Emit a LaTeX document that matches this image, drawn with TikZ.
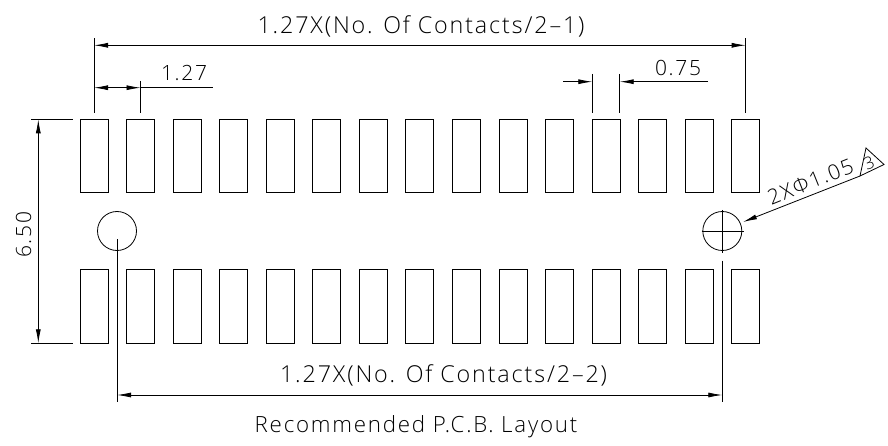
\documentclass[tikz,border=0pt]{standalone}
\usepackage{fontspec}
\setmainfont{Open Sans Light}[LetterSpace=8]
\usetikzlibrary{arrows.meta}
\tikzset{
  pad/.style={draw, line width=0.8pt, minimum width=28pt, minimum height=73.5pt, inner sep=0pt},
  dimline/.style={line width=0.8pt, -{Latex[length=14pt,width=5pt]}},
  dimboth/.style={line width=0.8pt, {Latex[length=14pt,width=5pt]}-{Latex[length=14pt,width=5pt]}},
  extline/.style={line width=0.8pt},
  dimtext/.style={font=\fontsize{23.3}{24}\selectfont, inner sep=0pt},
  smalltext/.style={font=\fontsize{21}{24}\selectfont, inner sep=0pt},
}

\begin{document}
\begin{tikzpicture}[x=1pt,y=-1pt]
  \useasboundingbox (0,0) rectangle (888,446);
  % Pads
  \foreach \i in {1,...,15} {
    \node[pad] (t\i) at ({93.9+46.57*(\i-1)}, 156) {};
    \node[pad] (b\i) at ({93.9+46.57*(\i-1)}, 306.6) {};
  }
  % Holes
  \node[draw, circle, line width=0.8pt, minimum size=39pt, inner sep=0pt] (hl) at (117, 231) {};
  \node[draw, circle, line width=0.8pt, minimum size=39pt, inner sep=0pt] (hr) at (722.3, 231) {};
  \coordinate (hrw) at (701.7, 231);
  \coordinate (hre) at (743.5, 231);
  \coordinate (hrn) at (722.3, 210);
  \coordinate (hrs) at (722.3, 252.7);
  \draw[extline] (hrw) -- (hre);
  \draw[extline] (hrn) -- (hrs);

  % Overall pitch dimension
  \coordinate (a1) at (94, 38.3);
  \coordinate (a2) at (94, 112.7);
  \coordinate (a3) at (745.7, 38.3);
  \coordinate (a4) at (745.7, 112.7);
  \coordinate (a5) at (94, 45.3);
  \coordinate (a6) at (745.7, 45.3);
  \draw[extline] (a1) -- (a2);
  \draw[extline] (a3) -- (a4);
  \draw[dimboth] (a5) -- (a6);
  \node[dimtext] (topdim) at (421, 26) {1.27X(No. Of Contacts/2–1)};

  % Single pitch
  \coordinate (c1) at (140.5, 81);
  \coordinate (c2) at (140.5, 112.7);
  \coordinate (c3) at (94, 87.7);
  \coordinate (c4) at (140.5, 87.7);
  \coordinate (c5) at (212.7, 87.7);
  \draw[extline] (c1) -- (c2);
  \draw[dimboth] (c3) -- (c4);
  \draw[extline] (c4) -- (c5);
  \node[smalltext] (pitch) at (184, 73) {1.27};

  % Pad width
  \coordinate (d1) at (592.3, 74);
  \coordinate (d2) at (592.3, 112.7);
  \coordinate (d3) at (619.7, 74);
  \coordinate (d4) at (619.7, 112.7);
  \coordinate (d5) at (563, 81.7);
  \coordinate (d6) at (592.3, 81.7);
  \coordinate (d7) at (708, 81.7);
  \coordinate (d8) at (619.7, 81.7);
  \draw[extline] (d1) -- (d2);
  \draw[extline] (d3) -- (d4);
  \draw[dimline] (d5) -- (d6);
  \draw[dimline] (d7) -- (d8);
  \node[smalltext] (width) at (678, 67.5) {0.75};

  % Row distance
  \coordinate (e1) at (31, 119.3);
  \coordinate (e2) at (73, 119.3);
  \coordinate (e3) at (31, 343.3);
  \coordinate (e4) at (73, 343.3);
  \coordinate (e5) at (38.3, 119.3);
  \coordinate (e6) at (38.3, 343.3);
  \draw[extline] (e1) -- (e2);
  \draw[extline] (e3) -- (e4);
  \draw[dimboth] (e5) -- (e6);
  \node[smalltext, rotate=90] (rows) at (23.5, 235) {6.50};

  % Hole distance
  \coordinate (f1) at (117, 239.3);
  \coordinate (f2) at (117, 402.3);
  \coordinate (f3) at (722.3, 260.7);
  \coordinate (f4) at (722.3, 402.3);
  \coordinate (f5) at (117, 395);
  \coordinate (f6) at (722.3, 395);
  \draw[extline] (f1) -- (f2);
  \draw[extline] (f3) -- (f4);
  \draw[dimboth] (f5) -- (f6);
  \node[dimtext] (holes) at (443.5, 375) {1.27X(No. Of Contacts/2–2)};

  % Hole callout
  \coordinate (g1) at (860, 176);
  \coordinate (g2) at (743, 222);
  \draw[dimline] (g1) -- (g2);
  \node[smalltext, rotate=22] (dia) at (810.5, 181.5) {2XΦ1.05};
  \coordinate (tr1) at (860, 176);
  \coordinate (tr2) at (866, 148);
  \coordinate (tr3) at (884, 164.5);
  \draw[extline] (tr1) -- (tr2) -- (tr3) -- cycle;
  \node[font=\fontsize{17}{17}\selectfont, inner sep=0pt, rotate=22] (note) at (869, 163) {3};

  \node[font=\fontsize{22.3}{24}\selectfont, inner sep=0pt] (title) at (416, 426.5) {Recommended P.C.B. Layout};
\end{tikzpicture}
\end{document}
